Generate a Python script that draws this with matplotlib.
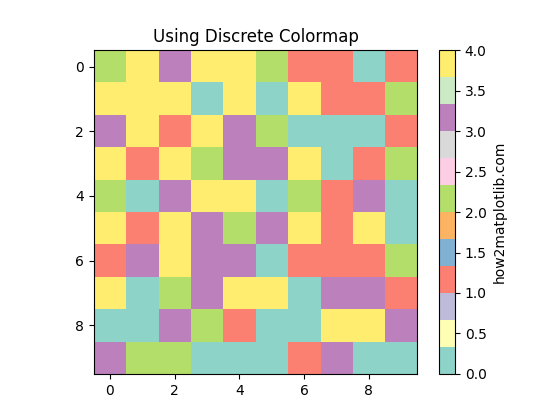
import matplotlib
matplotlib.use("Agg")
import matplotlib.pyplot as plt
import numpy as np

data = np.array([
    [2, 4, 3, 4, 4, 2, 1, 1, 0, 1],
    [4, 4, 4, 0, 4, 0, 4, 1, 1, 2],
    [3, 4, 1, 4, 3, 2, 0, 0, 0, 1],
    [4, 1, 4, 2, 3, 3, 4, 0, 1, 2],
    [2, 0, 3, 4, 4, 0, 2, 1, 3, 0],
    [4, 1, 4, 3, 2, 3, 4, 1, 4, 0],
    [1, 3, 4, 3, 3, 0, 1, 1, 1, 2],
    [4, 0, 2, 3, 4, 4, 0, 3, 3, 1],
    [0, 0, 3, 2, 1, 0, 0, 4, 4, 3],
    [3, 2, 2, 0, 0, 0, 1, 3, 0, 0],
])

fig, ax = plt.subplots(figsize=(5.6, 4.2), dpi=100)
im = ax.imshow(data, cmap="Set3")
ax.set_title("Using Discrete Colormap")
cb = fig.colorbar(im, ax=ax)
cb.set_label("how2matplotlib.com")
fig.savefig("out.png")
